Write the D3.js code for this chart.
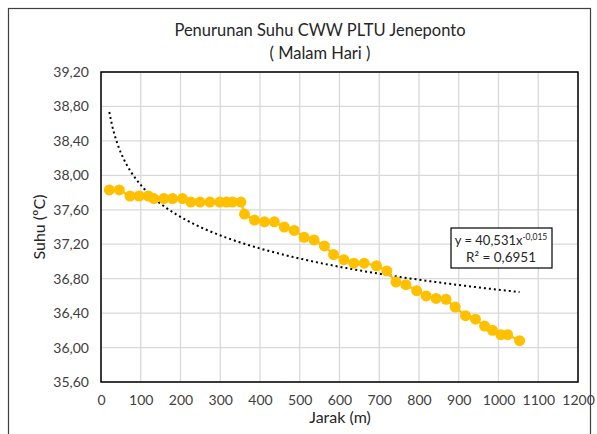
<!DOCTYPE html>
<html>
<head>
<meta charset="utf-8">
<script src="https://cdn.jsdelivr.net/npm/d3@7"></script>
<style>
  body { margin: 0; background: #fff; }
  svg { display: block; font-family: Lato, "Open Sans", sans-serif; }
</style>
</head>
<body>
<svg width="597" height="434"></svg>
<script>
// jarak (m) and suhu (ºC)
const jarak = [21, 46, 73, 96, 119, 133, 158, 180, 205, 226, 249, 274, 299, 316, 331, 352,
  361, 386, 411, 436, 461, 486, 511, 536, 562, 585, 611, 636, 662, 693, 719, 742, 767,
  794, 818, 843, 868, 891, 917, 942, 965, 985, 1006, 1023, 1053];
const suhu = [37.83, 37.83, 37.76, 37.76, 37.76, 37.73, 37.73, 37.73, 37.73, 37.69, 37.69,
  37.69, 37.69, 37.69, 37.69, 37.69, 37.55, 37.48, 37.46, 37.46, 37.40, 37.36, 37.28, 37.25,
  37.18, 37.08, 37.02, 36.98, 36.98, 36.95, 36.89, 36.76, 36.73, 36.66, 36.60, 36.57, 36.56,
  36.47, 36.37, 36.33, 36.25, 36.20, 36.15, 36.15, 36.08];
const xTicks = [0, 100, 200, 300, 400, 500, 600, 700, 800, 900, 1000, 1100, 1200];
const yTicks = [35.6, 36.0, 36.4, 36.8, 37.2, 37.6, 38.0, 38.4, 38.8, 39.2];

const data = jarak.map((d, i) => ({ x: d, y: suhu[i] }));

const svg = d3.select("svg");
const margin = { top: 72, right: 19, bottom: 52, left: 101 };
const width = 597, height = 434;

const x = d3.scaleLinear().domain([0, 1200]).range([margin.left, width - margin.right]);
const y = d3.scaleLinear().domain([35.6, 39.2]).range([height - margin.bottom, margin.top]);
const fmt = v => v.toFixed(2).replace(".", ",");

// outer chart border
svg.append("rect")
  .attr("x", 8.5).attr("y", 8.5).attr("width", 582).attr("height", 440)
  .attr("fill", "none").attr("stroke", "#404040").attr("stroke-width", 1.2);

// gridlines
svg.append("g").selectAll("line").data(xTicks).join("line")
  .attr("x1", d => x(d)).attr("x2", d => x(d))
  .attr("y1", y(35.6)).attr("y2", y(39.2))
  .attr("stroke", "#d9d9d9").attr("stroke-width", 1.3);
svg.append("g").selectAll("line").data(yTicks).join("line")
  .attr("x1", x(0)).attr("x2", x(1200))
  .attr("y1", d => y(d)).attr("y2", d => y(d))
  .attr("stroke", "#d9d9d9").attr("stroke-width", 1.3);

// plot border
svg.append("rect")
  .attr("x", x(0)).attr("y", y(39.2))
  .attr("width", x(1200) - x(0)).attr("height", y(35.6) - y(39.2))
  .attr("fill", "none").attr("stroke", "#000").attr("stroke-width", 1.5);

// axes labels
const xAxis = svg.append("g")
  .attr("transform", `translate(0,${y(35.6)})`)
  .call(d3.axisBottom(x).tickValues(xTicks).tickSize(0).tickPadding(13).tickFormat(d3.format("d")));
xAxis.select(".domain").remove();
xAxis.selectAll("text").attr("font-size", 14).attr("fill", "#404040").style("font-family", "Lato, sans-serif");

const yAxis = svg.append("g")
  .attr("transform", `translate(${x(0)},0)`)
  .call(d3.axisLeft(y).tickValues(yTicks).tickSize(0).tickPadding(12).tickFormat(fmt));
yAxis.select(".domain").remove();
yAxis.selectAll("text").attr("font-size", 14).attr("fill", "#404040").style("font-family", "Lato, sans-serif");

// power trendline, least squares on ln-ln like Excel
const lx = data.map(d => Math.log(d.x)), ly = data.map(d => Math.log(d.y));
const mx = d3.mean(lx), my = d3.mean(ly);
const b = d3.sum(lx, (v, i) => (v - mx) * (ly[i] - my)) / d3.sum(lx, v => (v - mx) ** 2);
const a = Math.exp(my - b * mx);
const xs = d3.range(jarak[0], jarak[jarak.length - 1] + 1, 4);
svg.append("path")
  .datum(xs)
  .attr("fill", "none").attr("stroke", "#000").attr("stroke-width", 2)
  .attr("stroke-dasharray", "2,3")
  .attr("d", d3.line().x(d => x(d)).y(d => y(a * Math.pow(d, b))));

// series
svg.append("path")
  .datum(data)
  .attr("fill", "none").attr("stroke", "#FFC000").attr("stroke-width", 2.2)
  .attr("d", d3.line().x(d => x(d.x)).y(d => y(d.y)));
svg.append("g").selectAll("circle").data(data).join("circle")
  .attr("cx", d => x(d.x)).attr("cy", d => y(d.y)).attr("r", 5.5)
  .attr("fill", "#FFC000");

// equation box
const bx = 451, by = 228;
svg.append("rect").attr("x", bx).attr("y", by).attr("width", 101).attr("height", 40)
  .attr("fill", "#fff").attr("stroke", "#000").attr("stroke-width", 1.2);
const eq = svg.append("text").attr("x", bx + 50).attr("y", by + 17)
  .attr("text-anchor", "middle").attr("font-size", 13).attr("fill", "#262626");
eq.append("tspan").text("y = 40,531x");
eq.append("tspan").attr("dy", -5).attr("font-size", 8.5).text("-0,015");
svg.append("text").attr("x", bx + 50).attr("y", by + 34)
  .attr("text-anchor", "middle").attr("font-size", 13.5).attr("fill", "#262626")
  .text("R² = 0,6951");

// titles
svg.append("text").attr("x", 320).attr("y", 36).attr("text-anchor", "middle")
  .attr("font-size", 16.5).attr("fill", "#262626").text("Penurunan Suhu CWW  PLTU Jeneponto");
svg.append("text").attr("x", 320).attr("y", 59).attr("text-anchor", "middle")
  .attr("font-size", 16.5).attr("fill", "#262626").text("( Malam Hari )");
svg.append("text").attr("x", 340).attr("y", 423).attr("text-anchor", "middle")
  .attr("font-size", 16).attr("fill", "#262626").text("Jarak (m)");
svg.append("text").attr("transform", `translate(45,${(y(35.6) + y(39.2)) / 2}) rotate(-90)`)
  .attr("text-anchor", "middle").attr("font-size", 16).attr("fill", "#262626").text("Suhu (ºC)");
</script>
</body>
</html>
